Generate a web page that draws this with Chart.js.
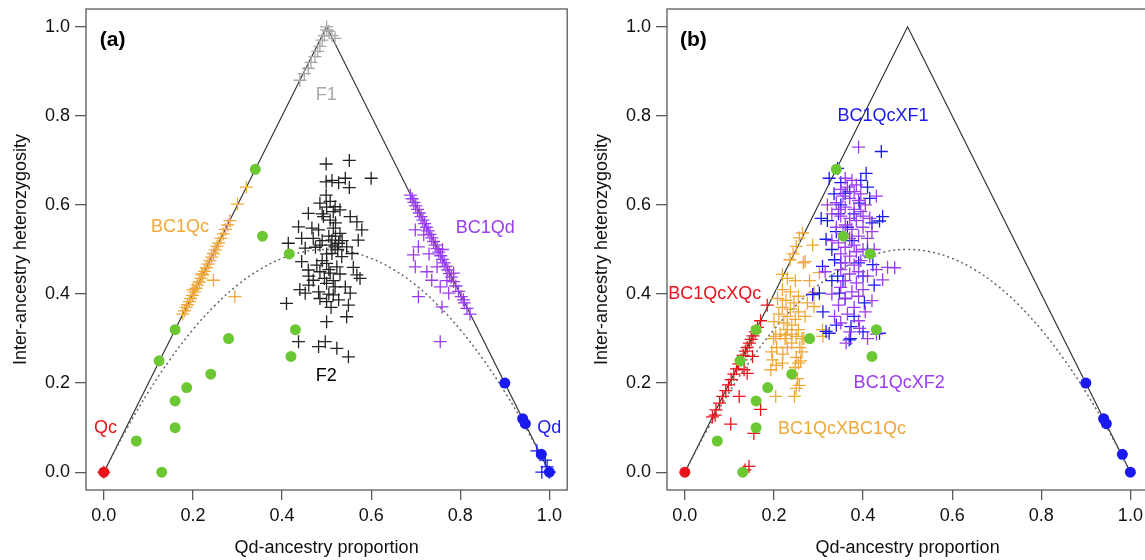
<!DOCTYPE html>
<html>
<head>
<meta charset="utf-8">
<script src="https://cdn.jsdelivr.net/npm/chart.js@4/dist/chart.umd.min.js"></script>
<style>
    body { margin: 0; background: #fff; }
    #wrap { position: relative; width: 1145px; height: 560px; overflow: hidden; background: #fff; }
    .panel { position: absolute; top: 0; width: 575px; height: 560px; }
</style>
</head>
<body>
<div id="wrap">
    <div class="panel" style="left:0px"><canvas id="chart_a" width="575" height="560"></canvas></div>
    <div class="panel" style="left:581px"><canvas id="chart_b" width="575" height="560"></canvas></div>
</div>
<script>
// tick labels shared by both axes of both panels
var tickValues = [0, 0.2, 0.4, 0.6, 0.8, 1.0];

// triangle boundary and the dotted expected curve
var triangle = [[0, 0], [0.5, 1.0], [1.0, 0]];
var expected = [[0, 0], [0.05, 0.095], [0.1, 0.18], [0.15, 0.255], [0.2, 0.32], [0.25, 0.375], [0.3, 0.42],
    [0.35, 0.455], [0.4, 0.48], [0.45, 0.495], [0.5, 0.5], [0.55, 0.495], [0.6, 0.48], [0.65, 0.455],
    [0.7, 0.42], [0.75, 0.375], [0.8, 0.32], [0.85, 0.255], [0.9, 0.18], [0.95, 0.095], [1.0, 0]];

// green reference individuals (same in both panels)
var greenDots = [[0.34, 0.68], [0.356, 0.53], [0.416, 0.49], [0.16, 0.32], [0.124, 0.25], [0.073, 0.07],
    [0.13, 0.0], [0.16, 0.16], [0.16, 0.10], [0.186, 0.19], [0.24, 0.22], [0.28, 0.30], [0.43, 0.32], [0.42, 0.26]];

// ---- panel (a) ----
var qcA = [[0, 0]];
var qdDotsA = [[0.9, 0.2], [0.94, 0.12], [0.946, 0.109], [0.982, 0.04], [1.0, 0.0]];
var qdCrossA = [[0.972, 0.048], [0.991, 0.027], [0.983, 0.0], [0.995, 0.012], [1.0, 0.0]];
var f1 = [[0.44, 0.88], [0.45, 0.895], [0.459, 0.907], [0.465, 0.92], [0.474, 0.933], [0.48, 0.945], [0.485, 0.956],
    [0.49, 0.97], [0.495, 0.98], [0.5, 0.993], [0.5, 1.0], [0.505, 0.99], [0.512, 0.98], [0.519, 0.974]];
var bc1qc = [[0.177, 0.355], [0.181, 0.362], [0.185, 0.37], [0.188, 0.376], [0.192, 0.383], [0.195, 0.39],
    [0.199, 0.397], [0.203, 0.405], [0.207, 0.413], [0.21, 0.42], [0.214, 0.427], [0.218, 0.435], [0.222, 0.443],
    [0.226, 0.451], [0.23, 0.459], [0.234, 0.467], [0.238, 0.475], [0.242, 0.483], [0.246, 0.491], [0.25, 0.499],
    [0.254, 0.507], [0.258, 0.515], [0.263, 0.525], [0.268, 0.535], [0.273, 0.545], [0.278, 0.555], [0.283, 0.565],
    [0.30, 0.602], [0.32, 0.64], [0.246, 0.431], [0.294, 0.394], [0.2, 0.41], [0.22, 0.445]];
var f2 = [[0.499, 0.692], [0.551, 0.70], [0.60, 0.66], [0.499, 0.652], [0.512, 0.655], [0.527, 0.65], [0.542, 0.66],
    [0.551, 0.639], [0.499, 0.622], [0.485, 0.604], [0.508, 0.608], [0.519, 0.596], [0.53, 0.589], [0.459, 0.581],
    [0.493, 0.574], [0.508, 0.566], [0.553, 0.574], [0.568, 0.562], [0.437, 0.551], [0.467, 0.548], [0.482, 0.544],
    [0.515, 0.548], [0.53, 0.536], [0.579, 0.544], [0.444, 0.525], [0.512, 0.521], [0.527, 0.514], [0.571, 0.521],
    [0.414, 0.514], [0.452, 0.503], [0.485, 0.51], [0.519, 0.506], [0.545, 0.506], [0.512, 0.491], [0.534, 0.484],
    [0.557, 0.491], [0.444, 0.473], [0.478, 0.465], [0.5, 0.469], [0.523, 0.461], [0.459, 0.454], [0.485, 0.45],
    [0.508, 0.447], [0.568, 0.443], [0.575, 0.435], [0.47, 0.431], [0.5, 0.424], [0.519, 0.416], [0.542, 0.416],
    [0.452, 0.402], [0.482, 0.405], [0.515, 0.398], [0.553, 0.402], [0.41, 0.379], [0.5, 0.383], [0.527, 0.387],
    [0.549, 0.375], [0.5, 0.338], [0.545, 0.349], [0.437, 0.293], [0.482, 0.282], [0.497, 0.293], [0.523, 0.278],
    [0.549, 0.259], [0.49, 0.58], [0.50, 0.595], [0.515, 0.585], [0.505, 0.53], [0.52, 0.53], [0.51, 0.51],
    [0.525, 0.50], [0.49, 0.52], [0.47, 0.525], [0.5, 0.49], [0.49, 0.475], [0.505, 0.455], [0.46, 0.44],
    [0.495, 0.435], [0.53, 0.445], [0.515, 0.43], [0.485, 0.39], [0.46, 0.42], [0.44, 0.41], [0.51, 0.37],
    [0.505, 0.40], [0.52, 0.56], [0.475, 0.505], [0.535, 0.52], [0.56, 0.46]];
var bc1qd = [[0.688, 0.622], [0.692, 0.614], [0.696, 0.606], [0.70, 0.598], [0.704, 0.59], [0.708, 0.582],
    [0.712, 0.574], [0.716, 0.566], [0.72, 0.558], [0.724, 0.55], [0.728, 0.542], [0.732, 0.534], [0.736, 0.526],
    [0.74, 0.518], [0.744, 0.51], [0.748, 0.502], [0.752, 0.494], [0.756, 0.486], [0.76, 0.478], [0.764, 0.47],
    [0.768, 0.462], [0.772, 0.454], [0.776, 0.446], [0.78, 0.438], [0.785, 0.428], [0.79, 0.418], [0.796, 0.406],
    [0.802, 0.394], [0.809, 0.38], [0.815, 0.368], [0.822, 0.355],
    [0.699, 0.544], [0.718, 0.533], [0.706, 0.506], [0.695, 0.488], [0.699, 0.461], [0.725, 0.45], [0.748, 0.461],
    [0.736, 0.431], [0.755, 0.416], [0.774, 0.402], [0.706, 0.394], [0.759, 0.371], [0.755, 0.293], [0.785, 0.447],
    [0.807, 0.387], [0.76, 0.50], [0.73, 0.49], [0.77, 0.43]];

// ---- panel (b) ----
var qcB = [[0, 0]];
var qdDotsB = [[0.9, 0.2], [0.94, 0.12], [0.946, 0.109], [0.982, 0.04], [1.0, 0.0]];
var bcXqc = [[0.062, 0.124], [0.07, 0.14], [0.078, 0.155], [0.085, 0.17], [0.092, 0.183], [0.098, 0.196],
    [0.104, 0.208], [0.11, 0.22], [0.116, 0.232], [0.121, 0.243], [0.126, 0.252], [0.131, 0.262], [0.136, 0.272],
    [0.14, 0.28], [0.145, 0.29], [0.149, 0.298], [0.153, 0.306], [0.158, 0.315], [0.163, 0.325], [0.17, 0.34],
    [0.185, 0.375], [0.068, 0.128], [0.103, 0.108], [0.122, 0.17], [0.17, 0.141], [0.155, 0.087], [0.144, 0.013],
    [0.135, 0.005], [0.14, 0.222], [0.152, 0.26], [0.133, 0.23]];
var bcXbc = [[0.257, 0.526], [0.25, 0.507], [0.243, 0.49], [0.236, 0.477], [0.266, 0.47], [0.219, 0.444],
    [0.23, 0.435], [0.248, 0.43], [0.219, 0.41], [0.237, 0.405], [0.255, 0.395], [0.208, 0.39], [0.227, 0.386],
    [0.245, 0.38], [0.219, 0.37], [0.237, 0.366], [0.255, 0.36], [0.211, 0.355], [0.23, 0.35], [0.248, 0.343],
    [0.2, 0.338], [0.222, 0.335], [0.24, 0.33], [0.255, 0.32], [0.23, 0.32], [0.214, 0.31], [0.24, 0.31],
    [0.263, 0.30], [0.199, 0.30], [0.225, 0.30], [0.24, 0.29], [0.206, 0.28], [0.23, 0.28], [0.258, 0.28],
    [0.195, 0.27], [0.22, 0.265], [0.25, 0.258], [0.26, 0.25], [0.205, 0.24], [0.255, 0.245], [0.248, 0.235],
    [0.204, 0.305], [0.227, 0.308], [0.25, 0.305], [0.197, 0.252], [0.219, 0.245], [0.263, 0.27], [0.193, 0.23],
    [0.253, 0.21], [0.25, 0.188], [0.204, 0.17], [0.246, 0.17], [0.257, 0.195], [0.264, 0.537], [0.287, 0.51],
    [0.27, 0.473], [0.29, 0.403], [0.302, 0.448], [0.29, 0.372], [0.309, 0.32], [0.31, 0.305], [0.267, 0.30],
    [0.28, 0.43], [0.275, 0.38], [0.27, 0.35]];
var bcXf1 = [[0.441, 0.72], [0.407, 0.671], [0.343, 0.682], [0.324, 0.66], [0.41, 0.64], [0.36, 0.626],
    [0.392, 0.604], [0.444, 0.574], [0.437, 0.564], [0.306, 0.57], [0.32, 0.565], [0.35, 0.60], [0.335, 0.625],
    [0.317, 0.523], [0.33, 0.50], [0.336, 0.477], [0.35, 0.47], [0.422, 0.466], [0.309, 0.462], [0.343, 0.44],
    [0.302, 0.402], [0.347, 0.402], [0.36, 0.39], [0.403, 0.38], [0.287, 0.399], [0.317, 0.316], [0.369, 0.297],
    [0.4, 0.315], [0.373, 0.327], [0.437, 0.312], [0.324, 0.312], [0.372, 0.30], [0.34, 0.33], [0.38, 0.35],
    [0.355, 0.43], [0.39, 0.47], [0.375, 0.52], [0.41, 0.50], [0.42, 0.56], [0.38, 0.58], [0.365, 0.55],
    [0.34, 0.54], [0.395, 0.655], [0.37, 0.63], [0.35, 0.65], [0.415, 0.615], [0.33, 0.43], [0.31, 0.36],
    [0.425, 0.42], [0.40, 0.44], [0.345, 0.58]];
var bcXf2 = [[0.39, 0.73], [0.36, 0.66], [0.375, 0.655], [0.385, 0.645], [0.365, 0.64], [0.35, 0.635], [0.38, 0.63],
    [0.395, 0.625], [0.43, 0.62], [0.355, 0.62], [0.37, 0.615], [0.39, 0.61], [0.34, 0.605], [0.405, 0.60],
    [0.36, 0.595], [0.38, 0.59], [0.395, 0.585], [0.33, 0.58], [0.35, 0.575], [0.37, 0.57], [0.415, 0.57],
    [0.385, 0.565], [0.36, 0.555], [0.34, 0.55], [0.4, 0.55], [0.375, 0.545], [0.355, 0.535], [0.39, 0.53],
    [0.37, 0.525], [0.41, 0.525], [0.345, 0.515], [0.38, 0.51], [0.36, 0.505], [0.4, 0.50], [0.385, 0.495],
    [0.35, 0.49], [0.37, 0.485], [0.415, 0.485], [0.395, 0.475], [0.36, 0.47], [0.38, 0.465], [0.471, 0.459],
    [0.35, 0.455], [0.39, 0.45], [0.37, 0.445], [0.41, 0.44], [0.444, 0.432], [0.315, 0.45], [0.36, 0.43],
    [0.385, 0.425], [0.35, 0.415], [0.4, 0.41], [0.375, 0.405], [0.33, 0.40], [0.39, 0.395], [0.36, 0.39],
    [0.42, 0.385], [0.345, 0.375], [0.38, 0.37], [0.405, 0.36], [0.365, 0.355], [0.336, 0.35], [0.39, 0.34],
    [0.35, 0.335], [0.392, 0.323], [0.37, 0.315], [0.362, 0.29], [0.41, 0.30], [0.43, 0.31], [0.32, 0.60],
    [0.33, 0.52], [0.42, 0.54], [0.425, 0.50], [0.345, 0.59], [0.40, 0.575], [0.43, 0.455], [0.455, 0.46]];

var FONT = "'Liberation Sans', Arial, sans-serif";
var INK = '#111';
var GREEN = '#6cc832', RED = '#e8141c', BLUE = '#1a1af0', ORANGE = '#f0a838', PURPLE = '#9b3cf0', GRAY = '#a8a8a8';

function pts(arr) {
    return arr.map(function (p) { return { x: p[0], y: p[1] }; });
}
function crosses(arr, color, order) {
    return { data: pts(arr), pointStyle: 'cross', pointRadius: 6.5, pointBorderWidth: 1.3,
        pointBorderColor: color, borderColor: color, showLine: false, order: order };
}
function dots(arr, color, order) {
    return { data: pts(arr), pointStyle: 'circle', pointRadius: 5.5, pointBorderWidth: 0,
        pointBackgroundColor: color, backgroundColor: color, showLine: false, order: order };
}
function guides() {
    return [
        { data: pts(triangle), showLine: true, borderColor: '#333', borderWidth: 1.2, pointRadius: 0, order: 100 },
        { data: pts(expected), showLine: true, borderColor: '#666', borderWidth: 1.5, borderDash: [2, 3],
            tension: 0.4, pointRadius: 0, order: 99 }
    ];
}

// frame around the plot plus the group labels
var framePlugin = {
    id: 'frame',
    afterDatasetsDraw: function (chart, args, opts) {
        var ctx = chart.ctx, a = chart.chartArea;
        var xs = chart.scales.x, ys = chart.scales.y;
        ctx.save();
        ctx.strokeStyle = '#5a5a5a';
        ctx.lineWidth = 1.3;
        ctx.strokeRect(a.left, a.top, a.right - a.left, a.bottom - a.top);
        ctx.textBaseline = 'middle';
        (opts.notes || []).forEach(function (n) {
            ctx.font = (n.bold ? 'bold 21px ' : '18px ') + FONT;
            ctx.fillStyle = n.color;
            ctx.textAlign = n.align || 'center';
            ctx.fillText(n.text, xs.getPixelForValue(n.x), ys.getPixelForValue(n.y));
        });
        ctx.restore();
    }
};

function setTicks(scale) {
    scale.ticks = tickValues.map(function (v) { return { value: v }; });
}
// keep the plot box exactly where the layout padding puts it
function noLabelPadding(s) {
    s.paddingTop = 0; s.paddingBottom = 0; s.paddingLeft = 0; s.paddingRight = 0;
}

function axes() {
    var tickFont = { family: FONT, size: 18 };
    return {
        x: {
            type: 'linear', min: -0.04, max: 1.04,
            afterBuildTicks: setTicks,
            afterFit: function (s) { s.height = 70; noLabelPadding(s); },
            grid: { drawOnChartArea: false, drawTicks: true, tickLength: 10, color: '#5a5a5a', lineWidth: 1.3 },
            border: { display: false },
            ticks: { font: tickFont, color: INK, padding: 5, maxRotation: 0, autoSkip: false,
                callback: function (v) { return v.toFixed(1); } },
            title: { display: true, text: 'Qd-ancestry proportion', font: tickFont, color: INK,
                padding: { top: 0, bottom: 1 } }
        },
        y: {
            type: 'linear', min: -0.04, max: 1.04,
            afterBuildTicks: setTicks,
            afterFit: function (s) { s.width = 86; noLabelPadding(s); },
            grid: { drawOnChartArea: false, drawTicks: true, tickLength: 11, color: '#5a5a5a', lineWidth: 1.3 },
            border: { display: false },
            ticks: { font: tickFont, color: INK, padding: 5, autoSkip: false,
                callback: function (v) { return v.toFixed(1); } },
            title: { display: true, text: 'Inter-ancestry heterozygosity', font: tickFont, color: INK,
                padding: { top: 10, bottom: 0 } }
        }
    };
}

function makeChart(id, datasets, notes) {
    return new Chart(id, {
        type: 'scatter',
        data: { datasets: datasets },
        options: {
            responsive: false,
            animation: false,
            layout: { padding: { top: 9, right: 7, left: 0, bottom: 0 } },
            scales: axes(),
            plugins: { legend: { display: false }, tooltip: { enabled: false }, frame: { notes: notes } }
        },
        plugins: [framePlugin]
    });
}

makeChart('chart_a',
    guides().concat([
        crosses(f1, GRAY, 10),
        crosses(bc1qc, ORANGE, 9),
        crosses(f2, '#222', 8),
        crosses(bc1qd, PURPLE, 7),
        crosses(qdCrossA, BLUE, 6),
        dots(qdDotsA, BLUE, 5),
        crosses(qcA, RED, 4),
        dots(qcA, RED, 3),
        dots(greenDots, GREEN, 1)
    ]),
    [
        { text: '(a)', x: -0.009, y: 0.971, color: '#000', bold: true, align: 'left' },
        { text: 'F1', x: 0.499, y: 0.847, color: GRAY },
        { text: 'BC1Qc', x: 0.171, y: 0.551, color: ORANGE },
        { text: 'F2', x: 0.499, y: 0.216, color: '#000' },
        { text: 'BC1Qd', x: 0.856, y: 0.548, color: PURPLE },
        { text: 'Qc', x: 0.004, y: 0.099, color: RED },
        { text: 'Qd', x: 1.0, y: 0.099, color: BLUE }
    ]);

makeChart('chart_b',
    guides().concat([
        crosses(bcXbc, ORANGE, 10),
        crosses(bcXf1, BLUE, 9),
        crosses(bcXf2, PURPLE, 8),
        crosses(bcXqc, RED, 7),
        dots(qdDotsB, BLUE, 5),
        dots(qcB, RED, 3),
        dots(greenDots, GREEN, 1)
    ]),
    [
        { text: '(b)', x: -0.011, y: 0.971, color: '#000', bold: true, align: 'left' },
        { text: 'BC1QcXF1', x: 0.445, y: 0.80, color: BLUE },
        { text: 'BC1QcXQc', x: 0.067, y: 0.40, color: RED },
        { text: 'BC1QcXF2', x: 0.481, y: 0.20, color: PURPLE },
        { text: 'BC1QcXBC1Qc', x: 0.353, y: 0.097, color: ORANGE }
    ]);
</script>
</body>
</html>
